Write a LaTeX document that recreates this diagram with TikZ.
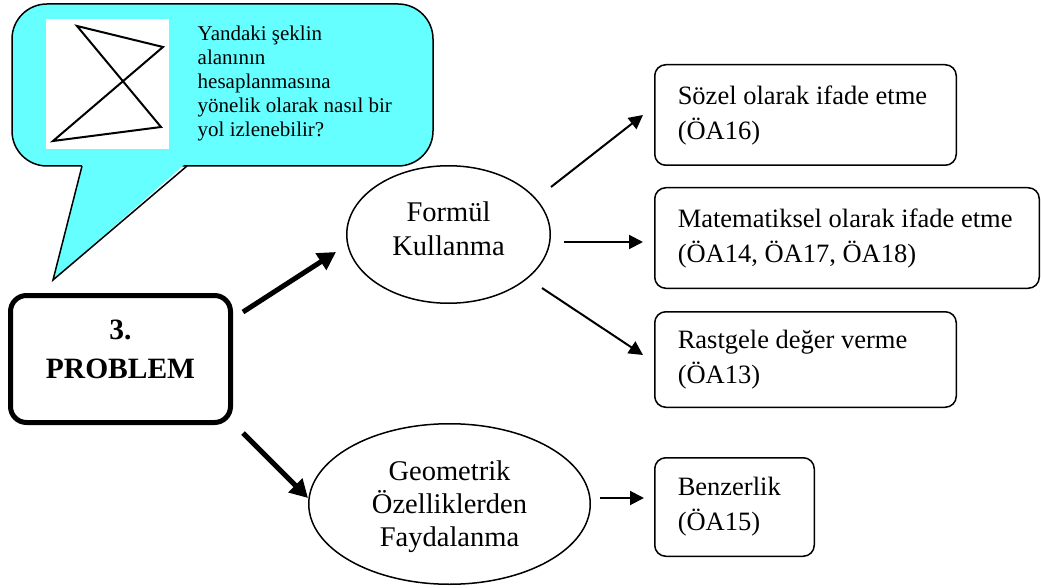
\documentclass[tikz,border=0pt]{standalone}
\usepackage{fontspec}
\setmainfont{Liberation Serif}
\usetikzlibrary{shapes.geometric,arrows.meta,calc}
\definecolor{callcyan}{RGB}{102,255,255}
\newcommand\boxfont{\fontsize{26.5}{35}\selectfont}
\newcommand\ellfont{\fontsize{28.5}{34}\selectfont}
\begin{document}
\begin{tikzpicture}[x=1pt,y=-1pt,
  rbox/.style={draw, line width=1.5pt, rounded corners=11pt, inner xsep=23pt, inner ysep=0pt,
    align=flush left, font=\boxfont},
  ell/.style={draw, ellipse, line width=1.5pt, inner sep=0pt, align=center},
  pbox/.style={draw, line width=5pt, rounded corners=16pt, inner sep=0pt, align=center,
    font=\bfseries\fontsize{29.5}{39}\selectfont},
  thickarrow/.style={line width=5pt, -{Triangle[length=18pt,width=19pt]}},
  thinarrow/.style={line width=2pt, -{Triangle[length=14pt,width=14pt]}}]
\useasboundingbox (0,0) rectangle (1041,588);
% callout
\filldraw[fill=callcyan, draw=black, line width=1.5pt, rounded corners=35pt] (12,4) rectangle (433,166);
\fill[callcyan] (82.8,163) -- (186.2,163) -- (53,280) -- cycle;
\draw[line width=1.5pt, line join=miter] (82,166) -- (53,280) -- (187,166);
\fill[white] (46,19) rectangle (169,149);
\draw[line width=2pt, line join=miter] (77,26) -- (163,47) -- (53,141) -- (161,127) -- cycle;
\node[anchor=north west, inner sep=0pt, align=left, font=\fontsize{21}{24}\selectfont] (q) at (197.5,25.7)
  {Yandaki şeklin\\alanının\\hesaplanmasına\\yönelik olarak nasıl bir\\yol izlenebilir?};
% main nodes
\node[pbox, minimum width=220pt, minimum height=127pt] (P) at (120.5,359)
  {3.\\PROBLEM\rule[-19pt]{0pt}{19pt}};
\node[ell, font=\ellfont, minimum width=203.5pt, minimum height=137.5pt] (F) at (448.5,234.5)
  {Formül\\Kullanma\rule[-12.5pt]{0pt}{12.5pt}};
\node[ell, font=\fontsize{28.5}{33}\selectfont, minimum width=281.5pt, minimum height=160.5pt] (G) at (449.5,504)
  {Geometrik\\Özelliklerden\\\smash{Faydalanma}};
\node[rbox, text width=255.5pt, minimum width=301.5pt, minimum height=100.5pt] (S) at (805.5,115)
  {\mbox{Sözel olarak ifade etme}\\\mbox{(ÖA16)}};
\node[rbox, text width=338.5pt, minimum width=384.5pt, minimum height=100.5pt] (M) at (847,238)
  {\mbox{Matematiksel olarak ifade etme}\\\mbox{(ÖA14, ÖA17, ÖA18)}};
\node[rbox, text width=255.5pt, minimum width=301.5pt, minimum height=95.5pt] (R) at (805.5,359.5)
  {\mbox{Rastgele değer verme}\\\mbox{(ÖA13)}};
\node[rbox, text width=113.5pt, minimum width=159.5pt, minimum height=98.5pt] (B) at (734.5,507)
  {\mbox{Benzerlik}\\\mbox{(ÖA15)}};
% connectors
\draw[thickarrow] ($(P.center)+(122.5,-47)$) -- ($(F.center)+(-112.5,17.5)$);
\draw[thickarrow] ($(P.center)+(122.5,74)$) -- ($(G.center)+(-141.5,-6)$);
\draw[thinarrow] ($(F.center)+(102.5,-47.5)$) -- ($(S.center)+(-162.5,0)$);
\draw[thinarrow] ($(F.center)+(115.5,7.5)$) -- ($(M.center)+(-204,4)$);
\draw[thinarrow] ($(F.center)+(93.5,53.5)$) -- ($(R.center)+(-162.5,-4.5)$);
\draw[thinarrow] ($(G.center)+(150.5,-6)$) -- ($(B.center)+(-90.5,-9)$);
\end{tikzpicture}
\end{document}
